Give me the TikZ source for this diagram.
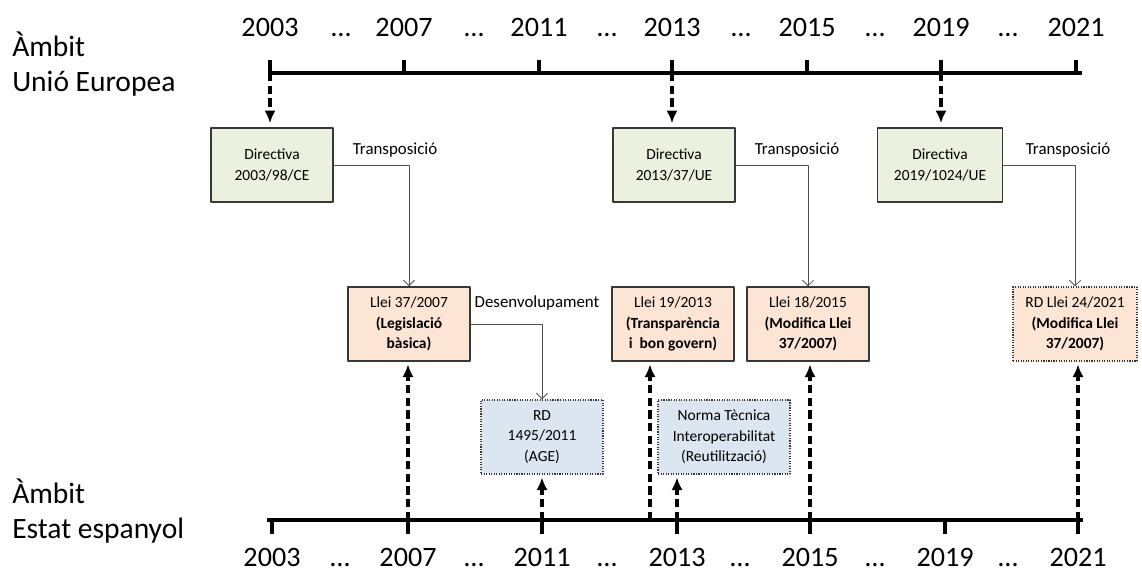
\documentclass[tikz,border=0pt]{standalone}
\usepackage{fontspec}
\setmainfont{Carlito}
\usetikzlibrary{arrows.meta}
\definecolor{dirfill}{RGB}{235,241,222}
\definecolor{lleifill}{RGB}{252,229,213}
\definecolor{rdfill}{RGB}{220,230,241}
\definecolor{boxline}{RGB}{55,55,55}
\definecolor{linkgray}{RGB}{80,80,80}
\tikzset{
  box/.style={draw=boxline,line width=0.8pt,inner sep=0pt,minimum width=3.05cm,minimum height=1.85cm,align=center,font=\fontsize{11}{14.5}\selectfont},
  dirbox/.style={box,fill=dirfill},
  lleibox/.style={box,fill=lleifill},
  dotbox/.style={box,densely dotted},
  rdbox/.style={dotbox,fill=rdfill},
  axis/.style={line width=2.8pt},
  year/.style={anchor=base,font=\fontsize{20}{24}\selectfont},
  ambit/.style={anchor=west,align=left,inner sep=0pt,font=\fontsize{21}{25}\selectfont},
  link/.style={draw=linkgray,line width=0.6pt,-{Straight Barb[length=4pt,width=8pt]}},
  linklbl/.style={font=\fontsize{12}{14}\selectfont},
  dasharrow/.style={line width=2.2pt,dash pattern=on 6pt off 3pt,-{Latex[length=9pt,width=8pt]}}
}
\begin{document}
\begin{tikzpicture}[x=0.025cm,y=-0.025cm,line join=round]
\useasboundingbox (0,0) rectangle (1142,577);

% ambits
\node[ambit] (ue) at (12,64) {Àmbit\\Unió Europea};
\node[ambit] (es) at (12,511) {Àmbit\\Estat espanyol};

% linia UE
\draw[axis] (268,73) -- (1082,73);
\foreach \yr/\x in {2003/270,2007/404,2011/539,2013/672,2015/807,2019/941,2021/1076}{
  \draw[axis] (\x,73) coordinate (eu\yr) -- ++(0,-13);
  \node[year] at (\x,37) {\yr};
}
\foreach \x in {341,474,607,741,875,1008}
  \node[year] at (\x,37) {…};

% linia Estat
\draw[axis] (267,520) -- (1083,520);
\foreach \yr/\x in {2003/272,2007/408,2011/542,2013/677,2015/810,2019/945,2021/1078}{
  \draw[axis] (\x,520) coordinate (es\yr) -- ++(0,14);
  \node[year] at (\x,566) {\yr};
}
\foreach \x in {340,474,607,740,875,1008}
  \node[year] at (\x,566) {…};
\coordinate (es2013b) at (650,520);

% directives
\node[dirbox] (dir2003) at (272,165) {Directiva\\2003/98/CE};
\node[dirbox] (dir2013) at (674,165) {Directiva\\2013/37/UE};
\node[dirbox,minimum width=3.12cm] (dir2019) at (940,165) {Directiva\\2019/1024/UE};

% lleis
\node[lleibox] (llei2007) at (409,324) {Llei 37/2007\\\textbf{(Legislació}\\\textbf{bàsica)}};
\node[lleibox] (llei2013) at (673,324) {Llei 19/2013\\\textbf{(Transparència}\\\textbf{i\ \ bon govern)}};
\node[lleibox] (llei2015) at (808,324) {Llei 18/2015\\\textbf{(Modifica Llei}\\\textbf{37/2007)}};
\node[lleibox,densely dotted,minimum width=3.1cm] (llei2021) at (1075,324) {RD Llei 24/2021\\\textbf{(Modifica Llei}\\\textbf{37/2007)}};

% desenvolupament
\node[rdbox] (rd2011) at (542,437) {RD\\1495/2011\\(AGE)};
\node[rdbox,minimum width=3.3cm] (norma) at (724,437) {Norma Tècnica\\Interoperabilitat\\(Reutilització)};

% transposicio
\draw[link] (dir2003.east) -| (llei2007.north);
\draw[link] (dir2013.east) -| (llei2015.north);
\draw[link] (dir2019.east) -| (llei2021.north);
\draw[link] (llei2007.east) -| (rd2011.north);
\node[linklbl] (tr2003) at (395,150) {Transposició};
\node[linklbl] (tr2013) at (797,150) {Transposició};
\node[linklbl] (tr2019) at (1068,150) {Transposició};
\node[linklbl] (desv) at (537,303) {Desenvolupament};

% fletxes UE
\draw[dasharrow,shorten >=3pt] (eu2003) -- (eu2003 |- dir2003.north);
\draw[dasharrow,shorten >=3pt] (eu2013) -- (eu2013 |- dir2013.north);
\draw[dasharrow,shorten >=3pt] (eu2019) -- (eu2019 |- dir2019.north);

% fletxes Estat
\draw[dasharrow,shorten >=2pt] (es2007) -- (es2007 |- llei2007.south);
\draw[dasharrow,shorten >=2pt] (es2011) -- (es2011 |- rd2011.south);
\draw[dasharrow,shorten >=2pt] (es2013b) -- (es2013b |- llei2013.south);
\draw[dasharrow,shorten >=2pt] (es2013) -- (es2013 |- norma.south);
\draw[dasharrow,shorten >=2pt] (es2015) -- (es2015 |- llei2015.south);
\draw[dasharrow,shorten >=2pt] (es2021) -- (es2021 |- llei2021.south);
\end{tikzpicture}
\end{document}
